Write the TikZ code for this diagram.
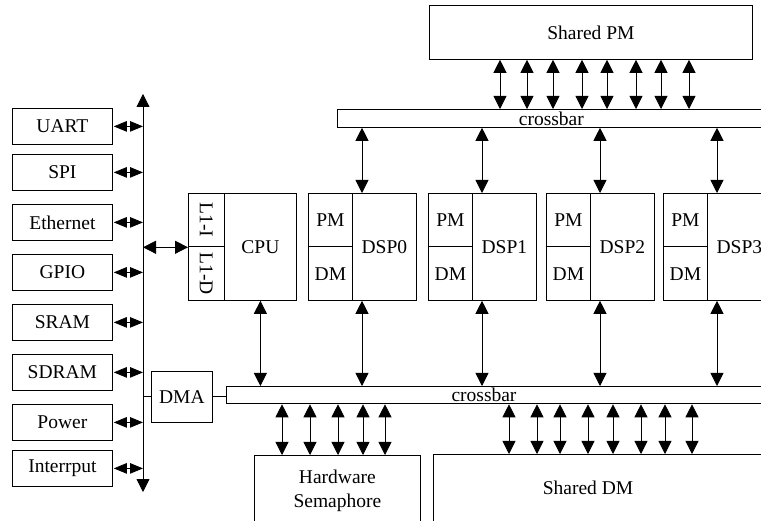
\documentclass[tikz,border=0pt]{standalone}
\usepackage{fontspec}
\setmainfont{Liberation Serif}
\usetikzlibrary{arrows.meta}
\begin{document}
\begin{tikzpicture}[x=1pt,y=-1pt,
  lbl/.style={inner sep=0pt, font=\fontsize{19.5}{24}\selectfont},
  box/.style={lbl, draw, line width=0.8pt, anchor=north west},
  bi/.style={line width=0.8pt,
    {Triangle[width=13pt,length=13pt]}-{Triangle[width=13pt,length=13pt]}},
  sidebi/.style={line width=0.8pt,
    {Triangle[width=10.5pt,length=13pt]}-{Triangle[width=10.5pt,length=13pt]}},
  plain/.style={line width=0.8pt}]
\useasboundingbox (0,0) rectangle (761,521);
\clip (0,0) rectangle (761,521);

% peripheral bus on the left
\coordinate (bustop) at (143,94);
\coordinate (busbot) at (143,492);
\draw[bi] (bustop) -- (busbot);

\foreach \n/\t/\y in {uart/UART/108, spi/SPI/154, eth/Ethernet/204,
    gpio/GPIO/254, sram/SRAM/304, sdram/SDRAM/354, power/Power/404,
    irq/Interrput/450}{
  \node[box, minimum width=100pt, minimum height=36pt] (\n) at (12,\y) {\t};
  \draw[sidebi] ([xshift=1pt]\n.east) -- (\n.east -| bustop);
}

% CPU with its L1 caches
\node[box, minimum width=36pt, minimum height=53.5pt] (l1i) at (188,193) {\rotatebox{-90}{L1-I}};
\node[box, minimum width=36pt, minimum height=53.5pt] (l1d) at (188,246.5) {\rotatebox{-90}{L1-D}};
\node[box, minimum width=72pt, minimum height=107pt] (cpu) at (224,193) {CPU};
\draw[bi] (l1i.south west -| bustop) -- (l1i.south west);

% crossbars
\node[box, minimum width=428pt, minimum height=18pt] (xbartop) at (337,109) {crossbar};
\node[box, minimum width=539pt, minimum height=17.5pt] (xbarbot) at (226,386) {};
\node[lbl] (xbarbotlbl) at (484,395) {crossbar};

% DSP cores
\foreach \i/\x in {0/308, 1/428, 2/546, 3/663}{
  \node[box, minimum width=44pt, minimum height=53.5pt] (pm\i) at (\x,193) {PM};
  \node[box, minimum width=44pt, minimum height=53.5pt] (dm\i) at (\x,246.5) {DM};
  \node[box, minimum width=64pt, minimum height=107pt] (dsp\i) at (\x+44,193) {DSP\i};
  \coordinate (up\i) at ([xshift=10pt]dsp\i.north west);
  \coordinate (dn\i) at ([xshift=10pt]dsp\i.south west);
  \draw[bi] (up\i |- xbartop.south) -- (up\i);
  \draw[bi] (dn\i) -- (dn\i |- xbarbot.north);
}
\draw[bi] (cpu.south) -- (cpu.south |- xbarbot.north);

% DMA
\node[box, minimum width=61pt, minimum height=51pt] (dma) at (151,371) {DMA};
\draw[plain] (dma.west -| bustop) -- (dma.west);
\draw[plain] (dma.east) -- (dma.east -| xbarbot.west);

% shared program memory
\node[box, minimum width=323pt, minimum height=54pt] (spm) at (429,5) {Shared PM};
\foreach \x in {500,527,553,582,607,636,661,689}
  \draw[bi] (\x,0 |- spm.south) -- (\x,0 |- xbartop.north);

% hardware semaphore and shared data memory
\node[box, minimum width=166pt, minimum height=71pt, align=center] (hsem) at (254,455) {Hardware\\Semaphore};
\node[box, minimum width=332pt, minimum height=70pt] (sdm) at (433,454) {};
\node[lbl] (sdmlbl) at (588,488) {Shared DM};
\foreach \x in {282,310,338,363,385}
  \draw[bi] (\x,0 |- xbarbot.south) -- (\x,0 |- hsem.north);
\foreach \x in {509,537,560,588,613,641,665,692}
  \draw[bi] (\x,0 |- xbarbot.south) -- (\x,0 |- sdm.north);
\end{tikzpicture}
\end{document}
